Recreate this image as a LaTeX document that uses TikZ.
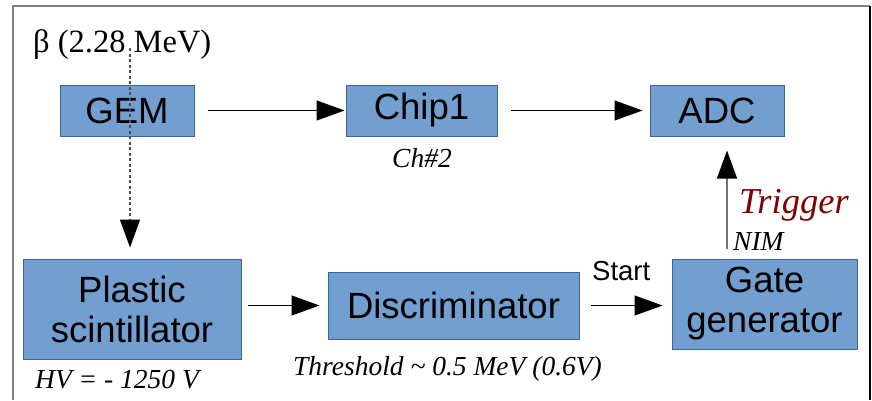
\documentclass[tikz,border=0pt]{standalone}
\usepackage{fontspec}
\setmainfont{Liberation Sans}
\newfontfamily\labelserif{Liberation Serif}
\usetikzlibrary{arrows.meta}
\definecolor{boxfill}{HTML}{729FCF}
\definecolor{boxline}{HTML}{3465A4}
\definecolor{trigred}{HTML}{800000}
\tikzset{
  block/.style={draw=boxline, fill=boxfill, line width=1pt, inner sep=0pt,
    align=center, font=\fontsize{36.5}{40}\selectfont},
  bigtip/.style={-{Triangle[length=28pt,width=20pt,color=black]}},
  flow/.style={line width=1.2pt, bigtip},
  note/.style={anchor=base west, inner sep=0pt, font=\labelserif\itshape\fontsize{27.5}{32}\selectfont},
  frame/.style={line width=2pt}
}
\begin{document}
\begin{tikzpicture}[x=1pt,y=-1pt]
\useasboundingbox (0,0) rectangle (872,400);
% open frame
\draw[frame, draw=black!50] (13,400) -- (13,6) -- (870,6);
\draw[frame, draw=black] (870,6) -- (870,400);

% blocks
\node[block, minimum width=134pt, minimum height=51pt] (gem) at (127,110.5) {GEM};
\node[block, minimum width=151pt, minimum height=51pt] (chip) at (421.5,110.5) {Chip1};
\node[block, minimum width=134pt, minimum height=51pt] (adc) at (717,110.5) {ADC};
\node[block, minimum width=218pt, minimum height=100pt] (scint) at (132,309) {Plastic\\scintillator};
\node[block, minimum width=251pt, minimum height=67pt] (disc) at (453.5,305.5) {Discriminator};
\node[block, minimum width=185pt, minimum height=90pt] (gate) at (764.5,304) {Gate\\generator};

% labels
\node[anchor=base west, inner sep=0pt, font=\labelserif\fontsize{32.5}{38}\selectfont] (beta) at (33,52) {β (2.28 MeV)};
\node[note] (chnote) at (392,167) {Ch\#2};
\node[note] (hvnote) at (35,388) {HV = - 1250 V};
\node[note] (thnote) at (293,375) {Threshold \textasciitilde{} 0.5 MeV (0.6V)};
\node[anchor=base west, inner sep=0pt, font=\fontsize{27.5}{32}\selectfont] (start) at (592,280) {Start};
\node[note] (nim) at (733,250) {NIM};
\node[anchor=base west, inner sep=0pt, text=trigred, font=\labelserif\itshape\fontsize{36.5}{40}\selectfont] (trig) at (739,213) {Trigger};

% signal path
\coordinate (src) at (130,48);
\coordinate (trigx) at (727,0);
\draw[flow, shorten <=13pt, shorten >=1pt] (gem.east) -- (chip.west);
\draw[flow, shorten <=13pt, shorten >=7pt] (chip.east) -- (adc.west);
\draw[flow, shorten <=6pt, shorten >=8pt] (scint.east |- disc.west) -- (disc.west);
\draw[flow, shorten <=11pt, shorten >=9pt] (disc.east) -- (disc.east -| gate.west);
\draw[flow, draw=black!55, shorten <=10pt, shorten >=14pt] (gate.north -| trigx) -- (adc.south -| trigx);
\draw[line width=1.2pt, black!70, dash pattern=on 3pt off 2.5pt, bigtip, shorten >=11pt] (src) -- (src |- scint.north);
\end{tikzpicture}
\end{document}
